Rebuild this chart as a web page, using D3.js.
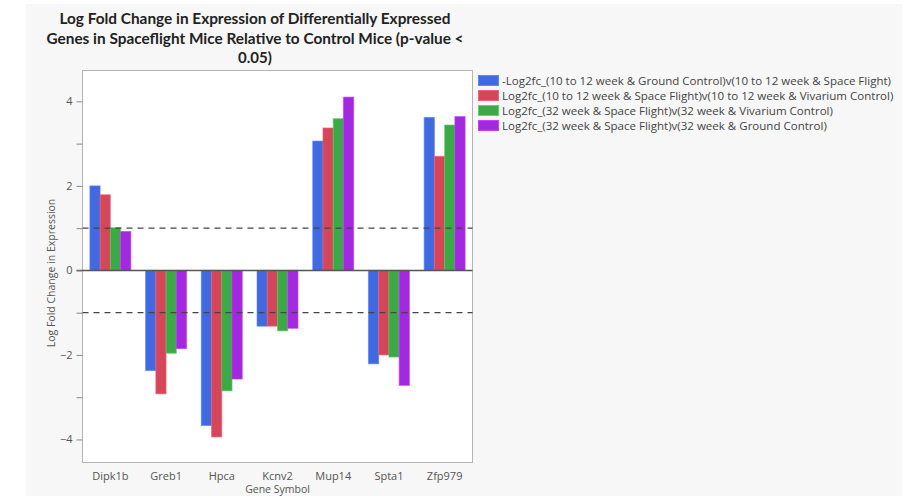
<!DOCTYPE html>
<html>
<head>
<meta charset="utf-8">
<script src="https://cdn.jsdelivr.net/npm/d3@7"></script>
<style>
  body { margin: 0; background: #fff; }
  svg { display: block; }
</style>
</head>
<body>
<svg id="chart" width="923" height="498"></svg>
<script>
// Data
var genes = ['Dipk1b', 'Greb1', 'Hpca', 'Kcnv2', 'Mup14', 'Spta1', 'Zfp979'];
var seriesNames = [
  '-Log2fc_(10 to 12 week & Ground Control)v(10 to 12 week & Space Flight)',
  'Log2fc_(10 to 12 week & Space Flight)v(10 to 12 week & Vivarium Control)',
  'Log2fc_(32 week & Space Flight)v(32 week & Vivarium Control)',
  'Log2fc_(32 week & Space Flight)v(32 week & Ground Control)'
];
var gcVsSf1012 = [2.00, -2.37, -3.67, -1.32, 3.06, -2.21, 3.62];
var sfVsVc1012 = [1.79, -2.92, -3.94, -1.32, 3.37, -2.00, 2.70];
var sfVsVc32   = [1.01, -1.96, -2.85, -1.43, 3.59, -2.05, 3.44];
var sfVsGc32   = [0.92, -1.85, -2.57, -1.37, 4.10, -2.72, 3.64];
var colours = ['#4169E0', '#D4475A', '#3BAA46', '#A12ADE'];
var yTicks = [-4, -2, 0, 2, 4];
var yMinorTicks = [-3, -1, 1, 3];
var refLines = [-1, 1];

var series = [gcVsSf1012, sfVsVc1012, sfVsVc32, sfVsGc32];

var svg = d3.select('#chart');
var plot = { left: 82.5, top: 70.5, right: 472.5, bottom: 462.5 };

// grey backdrop
svg.append('rect')
  .attr('x', 26).attr('y', 4)
  .attr('width', 876).attr('height', 492)
  .attr('fill', '#f7f7f7');

// scales
var x0 = d3.scaleBand()
  .domain(genes)
  .range([plot.left, plot.right])
  .paddingInner(0.265)
  .paddingOuter(0.1325);

var x1 = d3.scaleBand()
  .domain(d3.range(series.length))
  .range([0, x0.bandwidth()]);

var y = d3.scaleLinear()
  .domain([-4.545, 4.73])
  .range([plot.bottom, plot.top]);

// plot frame
svg.append('rect')
  .attr('x', plot.left).attr('y', plot.top)
  .attr('width', plot.right - plot.left)
  .attr('height', plot.bottom - plot.top)
  .attr('fill', '#fff')
  .attr('stroke', '#b4b4b4')
  .attr('stroke-width', 1);

// bars
var rows = [];
genes.forEach(function(g, i) {
  series.forEach(function(s, j) {
    rows.push({ gene: g, k: j, val: s[i] });
  });
});

svg.append('g')
  .selectAll('rect')
  .data(rows)
  .enter()
  .append('rect')
  .attr('x', function(d) { return x0(d.gene) + x1(d.k); })
  .attr('y', function(d) { return y(Math.max(0, d.val)); })
  .attr('width', x1.bandwidth())
  .attr('height', function(d) { return Math.abs(y(d.val) - y(0)); })
  .attr('fill', function(d) { return colours[d.k]; })
  .attr('stroke', function(d) { return d3.color(colours[d.k]).brighter(0.6); })
  .attr('stroke-opacity', 0.6)
  .attr('stroke-width', 1);

// reference lines at +/-1
svg.append('g')
  .selectAll('line')
  .data(refLines)
  .enter()
  .append('line')
  .attr('x1', plot.left).attr('x2', plot.right)
  .attr('y1', function(d) { return y(d); })
  .attr('y2', function(d) { return y(d); })
  .attr('stroke', '#444')
  .attr('stroke-width', 1.2)
  .attr('stroke-dasharray', '6,5');

// zero line
svg.append('line')
  .attr('x1', plot.left - 6).attr('x2', plot.right)
  .attr('y1', y(0)).attr('y2', y(0))
  .attr('stroke', '#555')
  .attr('stroke-width', 1.5);

// y axis
var yAxis = svg.append('g')
  .attr('transform', 'translate(' + plot.left + ',0)')
  .call(d3.axisLeft(y).tickValues(yTicks).tickSize(6).tickPadding(4).tickFormat(d3.format('d')));
yAxis.select('.domain').remove();
yAxis.selectAll('line').attr('stroke', '#888');
yAxis.selectAll('text')
  .attr('fill', '#555')
  .style('font-family', 'Open Sans, sans-serif')
  .style('font-size', '11px');

var yMinor = svg.append('g')
  .attr('transform', 'translate(' + plot.left + ',0)')
  .call(d3.axisLeft(y).tickValues(yMinorTicks).tickSize(6).tickFormat(''));
yMinor.select('.domain').remove();
yMinor.selectAll('line').attr('stroke', '#888');

// x axis labels
var xAxis = svg.append('g')
  .attr('transform', 'translate(0,' + plot.bottom + ')')
  .call(d3.axisBottom(x0).tickSize(0).tickPadding(10));
xAxis.select('.domain').remove();
xAxis.selectAll('text')
  .attr('fill', '#555')
  .style('font-family', 'Open Sans, sans-serif')
  .style('font-size', '11px');

// axis titles
svg.append('text')
  .attr('x', (plot.left + plot.right) / 2)
  .attr('y', 493)
  .attr('text-anchor', 'middle')
  .attr('fill', '#555')
  .style('font-family', 'Open Sans, sans-serif')
  .style('font-size', '10.5px')
  .text('Gene Symbol');

svg.append('text')
  .attr('transform', 'translate(55,' + 273 + ') rotate(-90)')
  .attr('text-anchor', 'middle')
  .attr('fill', '#555')
  .style('font-family', 'Open Sans, sans-serif')
  .style('font-size', '10.5px')
  .text('Log Fold Change in Expression');

// chart title
var titleLines = [
  'Log Fold Change in Expression of Differentially Expressed',
  'Genes in Spaceflight Mice Relative to Control Mice (p-value <',
  '0.05)'
];
var titleWidths = [391, 417, 0];
svg.append('g')
  .selectAll('text')
  .data(titleLines)
  .enter()
  .append('text')
  .attr('x', 255)
  .attr('y', function(d, i) { return 24 + i * 19.5; })
  .attr('text-anchor', 'middle')
  .attr('fill', '#222')
  .style('font-family', 'Lato, sans-serif')
  .style('font-weight', 'bold')
  .style('font-size', '15px')
  .each(function(d, i) {
    if (titleWidths[i]) {
      d3.select(this).attr('textLength', titleWidths[i]).attr('lengthAdjust', 'spacingAndGlyphs');
    }
  })
  .text(function(d) { return d; });

// legend
var legend = svg.append('g')
  .selectAll('g')
  .data(seriesNames)
  .enter()
  .append('g')
  .attr('transform', function(d, i) { return 'translate(478.5,' + (75.5 + i * 15) + ')'; });

legend.append('rect')
  .attr('width', 20).attr('height', 10)
  .attr('fill', function(d, i) { return colours[i]; })
  .attr('stroke', function(d, i) { return d3.color(colours[i]).brighter(0.8); })
  .attr('stroke-width', 1);

legend.append('text')
  .attr('x', 23.5)
  .attr('y', 9.5)
  .attr('fill', '#444')
  .style('font-family', 'Open Sans, sans-serif')
  .style('font-size', '11px')
  .text(function(d) { return d; });

// squeeze legend text to the width seen in the picture
var first = legend.select('text').node();
var scale = 389 / first.getComputedTextLength();
legend.selectAll('text').each(function() {
  var w = this.getComputedTextLength();
  d3.select(this).attr('textLength', w * scale).attr('lengthAdjust', 'spacingAndGlyphs');
});
</script>
</body>
</html>
